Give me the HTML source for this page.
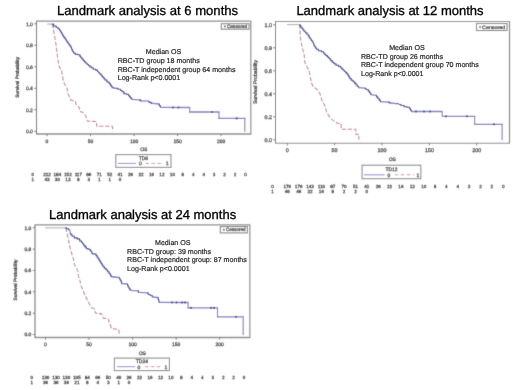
<!DOCTYPE html>
<html><head><meta charset="utf-8"><style>
html,body{margin:0;padding:0;background:#fff;}
svg{display:block;}
text{font-family:"Liberation Sans", sans-serif;text-rendering:geometricPrecision;}
.ti{font-size:13px;fill:#000;stroke:#000;stroke-width:0.32px;}
.md{font-size:7.1px;fill:#222;stroke:#222;stroke-width:0.18px;text-rendering:geometricPrecision;}
svg text:not(.md):not(.ti){fill:#2e2e2e;stroke:#2e2e2e;stroke-width:0.25px;}
</style></head><body>
<svg width="520" height="390" viewBox="0 0 520 390">
<defs><filter id="bl" filterUnits="userSpaceOnUse" x="0" y="0" width="520" height="390"><feConvolveMatrix order="3" kernelMatrix="1 6 1 6 36 6 1 6 1" divisor="64" edgeMode="duplicate"/></filter></defs>
<rect width="520" height="390" fill="#fff"/>
<g filter="url(#bl)">
<rect width="520" height="390" fill="#fff"/>
<path d="M35.95,21.15H251.35M35.95,134.00H251.35" stroke="#8a8a8a" stroke-width="1.4"/>
<path d="M36.50,21.15V134.00" stroke="#727272" stroke-width="1.1"/>
<path d="M250.80,21.15V134.00" stroke="#959595" stroke-width="1.3"/>
<line x1="34.3" y1="131.3" x2="36.5" y2="131.3" stroke="#777" stroke-width="1.0"/>
<text x="32.9" y="133.1" font-size="5" fill="#444" text-anchor="end">0.0</text>
<line x1="34.3" y1="109.8" x2="36.5" y2="109.8" stroke="#777" stroke-width="1.0"/>
<text x="32.9" y="111.6" font-size="5" fill="#444" text-anchor="end">0.2</text>
<line x1="34.3" y1="88.3" x2="36.5" y2="88.3" stroke="#777" stroke-width="1.0"/>
<text x="32.9" y="90.1" font-size="5" fill="#444" text-anchor="end">0.4</text>
<line x1="34.3" y1="66.8" x2="36.5" y2="66.8" stroke="#777" stroke-width="1.0"/>
<text x="32.9" y="68.6" font-size="5" fill="#444" text-anchor="end">0.6</text>
<line x1="34.3" y1="45.3" x2="36.5" y2="45.3" stroke="#777" stroke-width="1.0"/>
<text x="32.9" y="47.1" font-size="5" fill="#444" text-anchor="end">0.8</text>
<line x1="34.3" y1="23.8" x2="36.5" y2="23.8" stroke="#777" stroke-width="1.0"/>
<text x="32.9" y="25.6" font-size="5" fill="#444" text-anchor="end">1.0</text>
<line x1="47.0" y1="134.0" x2="47.0" y2="136.2" stroke="#777" stroke-width="1.0"/>
<text x="47.0" y="142.5" font-size="5" fill="#444" text-anchor="middle">0</text>
<line x1="90.5" y1="134.0" x2="90.5" y2="136.2" stroke="#777" stroke-width="1.0"/>
<text x="90.5" y="142.5" font-size="5" fill="#444" text-anchor="middle">50</text>
<line x1="134.1" y1="134.0" x2="134.1" y2="136.2" stroke="#777" stroke-width="1.0"/>
<text x="134.1" y="142.5" font-size="5" fill="#444" text-anchor="middle">100</text>
<line x1="177.6" y1="134.0" x2="177.6" y2="136.2" stroke="#777" stroke-width="1.0"/>
<text x="177.6" y="142.5" font-size="5" fill="#444" text-anchor="middle">150</text>
<line x1="221.1" y1="134.0" x2="221.1" y2="136.2" stroke="#777" stroke-width="1.0"/>
<text x="221.1" y="142.5" font-size="5" fill="#444" text-anchor="middle">200</text>
<text x="0" y="0" font-size="4.8" fill="#444" text-anchor="middle" transform="translate(18.9,77.3) rotate(-90)">Survival Probability</text>
<text x="143.8" y="151.0" font-size="5" fill="#444" text-anchor="middle">OS</text>
<rect x="115.8" y="154.6" width="55.2" height="12.8" fill="none" stroke="#8c8c8c" stroke-width="1.1"/>
<text x="143.4" y="160.0" font-size="5" fill="#444" text-anchor="middle">TD6</text>
<line x1="118" y1="163.4" x2="136" y2="163.4" stroke="#8a8ad0" stroke-width="1"/>
<line x1="145.4" y1="163.4" x2="163" y2="163.4" stroke="#c89aa6" stroke-width="1" stroke-dasharray="3.6 2.4"/>
<text x="140.3" y="165.2" font-size="5" fill="#444" text-anchor="middle">0</text>
<text x="167.2" y="165.2" font-size="5" fill="#444" text-anchor="middle">1</text>
<rect x="221.3" y="23.7" width="27.7" height="5.5" fill="none" stroke="#858585" stroke-width="1.1"/>
<path d="M223.8,26.4H226.0M224.9,25.3V27.6" stroke="#555" stroke-width="0.8"/>
<text x="226.9" y="28.1" font-size="4.8" fill="#444" textLength="20.3" lengthAdjust="spacingAndGlyphs">Censored</text>
<text x="32.8" y="175.8" font-size="4.6" fill="#444" text-anchor="middle">0</text>
<text x="32.8" y="180.7" font-size="4.6" fill="#444" text-anchor="middle">1</text>
<text x="47.0" y="175.8" font-size="4.6" fill="#444" text-anchor="middle">212</text>
<text x="57.4" y="175.8" font-size="4.6" fill="#444" text-anchor="middle">184</text>
<text x="67.9" y="175.8" font-size="4.6" fill="#444" text-anchor="middle">152</text>
<text x="78.3" y="175.8" font-size="4.6" fill="#444" text-anchor="middle">117</text>
<text x="88.8" y="175.8" font-size="4.6" fill="#444" text-anchor="middle">86</text>
<text x="99.2" y="175.8" font-size="4.6" fill="#444" text-anchor="middle">71</text>
<text x="109.7" y="175.8" font-size="4.6" fill="#444" text-anchor="middle">52</text>
<text x="120.1" y="175.8" font-size="4.6" fill="#444" text-anchor="middle">41</text>
<text x="130.6" y="175.8" font-size="4.6" fill="#444" text-anchor="middle">26</text>
<text x="141.0" y="175.8" font-size="4.6" fill="#444" text-anchor="middle">22</text>
<text x="151.5" y="175.8" font-size="4.6" fill="#444" text-anchor="middle">16</text>
<text x="161.9" y="175.8" font-size="4.6" fill="#444" text-anchor="middle">12</text>
<text x="172.4" y="175.8" font-size="4.6" fill="#444" text-anchor="middle">10</text>
<text x="182.8" y="175.8" font-size="4.6" fill="#444" text-anchor="middle">8</text>
<text x="193.2" y="175.8" font-size="4.6" fill="#444" text-anchor="middle">4</text>
<text x="203.7" y="175.8" font-size="4.6" fill="#444" text-anchor="middle">4</text>
<text x="214.1" y="175.8" font-size="4.6" fill="#444" text-anchor="middle">3</text>
<text x="224.6" y="175.8" font-size="4.6" fill="#444" text-anchor="middle">2</text>
<text x="235.0" y="175.8" font-size="4.6" fill="#444" text-anchor="middle">2</text>
<text x="245.5" y="175.8" font-size="4.6" fill="#444" text-anchor="middle">0</text>
<text x="47.0" y="180.7" font-size="4.6" fill="#444" text-anchor="middle">43</text>
<text x="57.4" y="180.7" font-size="4.6" fill="#444" text-anchor="middle">30</text>
<text x="67.9" y="180.7" font-size="4.6" fill="#444" text-anchor="middle">13</text>
<text x="78.3" y="180.7" font-size="4.6" fill="#444" text-anchor="middle">8</text>
<text x="88.8" y="180.7" font-size="4.6" fill="#444" text-anchor="middle">3</text>
<text x="99.2" y="180.7" font-size="4.6" fill="#444" text-anchor="middle">1</text>
<text x="109.7" y="180.7" font-size="4.6" fill="#444" text-anchor="middle">1</text>
<text x="120.1" y="180.7" font-size="4.6" fill="#444" text-anchor="middle">0</text>
<line x1="47.2" y1="24.1" x2="52.1" y2="24.1" stroke="#b4b0b8" stroke-width="1.1"/>
<line x1="52.1" y1="24.1" x2="52.8" y2="26.1" stroke="#b8849a" stroke-width="1.1" stroke-dasharray="4.2 1.8" stroke-dashoffset="0.00"/>
<line x1="52.8" y1="26.1" x2="55.4" y2="40.5" stroke="#b8849a" stroke-width="1.1" stroke-dasharray="4.2 1.8" stroke-dashoffset="2.12"/>
<line x1="55.4" y1="40.5" x2="57.3" y2="55" stroke="#b8849a" stroke-width="1.1" stroke-dasharray="4.2 1.8" stroke-dashoffset="16.75"/>
<line x1="57.3" y1="55" x2="58.8" y2="65.2" stroke="#b8849a" stroke-width="1.1" stroke-dasharray="4.2 1.8" stroke-dashoffset="31.38"/>
<line x1="58.8" y1="65.2" x2="59.9" y2="68.3" stroke="#b8849a" stroke-width="1.1" stroke-dasharray="4.2 1.8" stroke-dashoffset="41.69"/>
<line x1="59.9" y1="68.3" x2="61.4" y2="69.3" stroke="#b8849a" stroke-width="1.1" stroke-dasharray="4.2 1.8" stroke-dashoffset="44.97"/>
<line x1="61.4" y1="69.3" x2="62.4" y2="75.5" stroke="#b8849a" stroke-width="1.1" stroke-dasharray="4.2 1.8" stroke-dashoffset="46.78"/>
<line x1="62.4" y1="75.5" x2="63.4" y2="81.6" stroke="#b8849a" stroke-width="1.1" stroke-dasharray="4.2 1.8" stroke-dashoffset="53.06"/>
<line x1="63.4" y1="81.6" x2="65.5" y2="85.7" stroke="#b8849a" stroke-width="1.1" stroke-dasharray="4.2 1.8" stroke-dashoffset="59.24"/>
<line x1="65.5" y1="85.7" x2="67" y2="87.8" stroke="#b8849a" stroke-width="1.1" stroke-dasharray="4.2 1.8" stroke-dashoffset="63.85"/>
<line x1="67" y1="87.8" x2="68" y2="94" stroke="#b8849a" stroke-width="1.1" stroke-dasharray="4.2 1.8" stroke-dashoffset="66.43"/>
<line x1="68" y1="94" x2="68.3" y2="94.6" stroke="#b8849a" stroke-width="1.1" stroke-dasharray="4.2 1.8" stroke-dashoffset="72.71"/>
<line x1="68.3" y1="94.6" x2="71.2" y2="100.4" stroke="#b8849a" stroke-width="1.1" stroke-dasharray="4.2 1.8" stroke-dashoffset="73.38"/>
<line x1="71.2" y1="100.4" x2="75.2" y2="101" stroke="#c87888" stroke-width="1.1" stroke-dasharray="4.2 1.8" stroke-dashoffset="79.86"/>
<line x1="75.2" y1="101" x2="76.4" y2="105" stroke="#b8849a" stroke-width="1.1" stroke-dasharray="4.2 1.8" stroke-dashoffset="83.91"/>
<line x1="76.4" y1="105" x2="79.2" y2="107.3" stroke="#b8849a" stroke-width="1.1" stroke-dasharray="4.2 1.8" stroke-dashoffset="88.08"/>
<line x1="79.2" y1="107.3" x2="79.8" y2="111.4" stroke="#b8849a" stroke-width="1.1" stroke-dasharray="4.2 1.8" stroke-dashoffset="91.71"/>
<line x1="79.8" y1="111.4" x2="83.3" y2="112.5" stroke="#c87888" stroke-width="1.1" stroke-dasharray="4.2 1.8" stroke-dashoffset="95.85"/>
<line x1="83.3" y1="112.5" x2="85.6" y2="115.4" stroke="#b8849a" stroke-width="1.1" stroke-dasharray="4.2 1.8" stroke-dashoffset="99.52"/>
<line x1="85.6" y1="115.4" x2="87.3" y2="121.2" stroke="#b8849a" stroke-width="1.1" stroke-dasharray="4.2 1.8" stroke-dashoffset="103.22"/>
<line x1="87.3" y1="121.2" x2="96.6" y2="121.5" stroke="#c87888" stroke-width="1.1" stroke-dasharray="4.2 1.8" stroke-dashoffset="109.26"/>
<line x1="96.6" y1="121.5" x2="96.6" y2="126.3" stroke="#b8849a" stroke-width="1.1" stroke-dasharray="4.2 1.8" stroke-dashoffset="118.57"/>
<line x1="96.6" y1="126.3" x2="112.6" y2="126.3" stroke="#c87888" stroke-width="1.1" stroke-dasharray="4.2 1.8" stroke-dashoffset="123.37"/>
<line x1="112.6" y1="126.3" x2="112.6" y2="131.3" stroke="#b8849a" stroke-width="1.1" stroke-dasharray="4.2 1.8" stroke-dashoffset="139.37"/>
<path d="M52.10,24.10H53.55V26.00H55.00" fill="none" stroke="#30308c" stroke-width="1.1" stroke-linejoin="round"/>
<path d="M55.00,26.00H56.25V27.50H57.50" fill="none" stroke="#30308c" stroke-width="1.1" stroke-linejoin="round"/>
<path d="M57.50,27.50H58.12V28.75H59.38V30.00H60.00" fill="none" stroke="#30308c" stroke-width="1.1" stroke-linejoin="round"/>
<path d="M60.00,30.00H60.36V31.28H61.08V32.56H61.80V33.84H62.52V35.12H63.24V36.40H63.60" fill="none" stroke="#30308c" stroke-width="1.1" stroke-linejoin="round"/>
<path d="M63.60,36.40H64.05V37.60H64.95V38.80H65.85V40.00H66.30" fill="none" stroke="#30308c" stroke-width="1.1" stroke-linejoin="round"/>
<path d="M66.30,40.00H66.68V41.20H67.45V42.40H68.22V43.60H68.60" fill="none" stroke="#30308c" stroke-width="1.1" stroke-linejoin="round"/>
<path d="M68.60,43.60H69.15V44.95H70.25V46.30H70.80" fill="none" stroke="#30308c" stroke-width="1.1" stroke-linejoin="round"/>
<path d="M70.80,46.30H71.03V47.50H71.50V48.70H71.97V49.90H72.20" fill="none" stroke="#30308c" stroke-width="1.1" stroke-linejoin="round"/>
<path d="M72.20,49.90H72.65V51.45H73.55V53.00H74.00" fill="none" stroke="#30308c" stroke-width="1.1" stroke-linejoin="round"/>
<path d="M74.00,53.00H75.35V54.40H76.70" fill="none" stroke="#30308c" stroke-width="1.1" stroke-linejoin="round"/>
<path d="M76.70,54.40H78.05V54.80H79.40" fill="none" stroke="#30308c" stroke-width="1.1" stroke-linejoin="round"/>
<path d="M79.40,54.80H79.85V56.15H80.75V57.50H81.20" fill="none" stroke="#30308c" stroke-width="1.1" stroke-linejoin="round"/>
<path d="M81.20,57.50H81.88V59.05H83.23V60.60H83.90" fill="none" stroke="#30308c" stroke-width="1.1" stroke-linejoin="round"/>
<path d="M83.90,60.60H84.55V61.95H85.85V63.30H86.50" fill="none" stroke="#30308c" stroke-width="1.1" stroke-linejoin="round"/>
<path d="M86.50,63.30H87.17V64.45H88.53V65.60H89.20" fill="none" stroke="#30308c" stroke-width="1.1" stroke-linejoin="round"/>
<path d="M89.20,65.60H89.88V66.70H91.23V67.80H91.90" fill="none" stroke="#30308c" stroke-width="1.1" stroke-linejoin="round"/>
<path d="M91.90,67.80H93.25V69.20H94.60" fill="none" stroke="#30308c" stroke-width="1.1" stroke-linejoin="round"/>
<path d="M94.60,69.20H95.75V70.10H96.90" fill="none" stroke="#30308c" stroke-width="1.1" stroke-linejoin="round"/>
<path d="M96.90,70.10H97.45V71.45H98.55V72.80H99.10" fill="none" stroke="#30308c" stroke-width="1.1" stroke-linejoin="round"/>
<path d="M99.10,72.80H99.75V73.80H100.40" fill="none" stroke="#30308c" stroke-width="1.1" stroke-linejoin="round"/>
<path d="M100.40,73.80H100.90V75.00H101.90V76.20H102.90V77.40H103.40" fill="none" stroke="#30308c" stroke-width="1.1" stroke-linejoin="round"/>
<path d="M103.40,77.40H103.93V78.70H104.97V80.00H105.50" fill="none" stroke="#30308c" stroke-width="1.1" stroke-linejoin="round"/>
<path d="M105.50,80.00H107.05V82.00H108.60" fill="none" stroke="#30308c" stroke-width="1.1" stroke-linejoin="round"/>
<path d="M108.60,82.00H109.11V83.42H110.14V84.85H111.16V86.28H112.19V87.70H112.70" fill="none" stroke="#30308c" stroke-width="1.1" stroke-linejoin="round"/>
<path d="M112.70,87.70H114.20V88.20H115.70" fill="none" stroke="#30308c" stroke-width="1.1" stroke-linejoin="round"/>
<path d="M115.70,88.20H117.75V89.20H119.80" fill="none" stroke="#30308c" stroke-width="1.1" stroke-linejoin="round"/>
<path d="M119.80,89.20H120.58V90.50H122.12V91.80H122.90" fill="none" stroke="#30308c" stroke-width="1.1" stroke-linejoin="round"/>
<path d="M122.90,91.80H123.95V93.80H125.00" fill="none" stroke="#30308c" stroke-width="1.1" stroke-linejoin="round"/>
<path d="M125.00,93.80H126.50V94.30H128.00" fill="none" stroke="#30308c" stroke-width="1.1" stroke-linejoin="round"/>
<path d="M128.00,94.30H128.53V95.60H129.57V96.90H130.10" fill="none" stroke="#30308c" stroke-width="1.1" stroke-linejoin="round"/>
<path d="M130.10,96.90H130.62V98.10H131.67V99.30H132.20" fill="none" stroke="#30308c" stroke-width="1.1" stroke-linejoin="round"/>
<line x1="132.2" y1="99.3" x2="139.3" y2="99.9" stroke="#7c7cbe" stroke-width="1.3" stroke-linecap="round"/>
<path d="M139.30,99.90H140.35V100.90H141.40" fill="none" stroke="#30308c" stroke-width="1.1" stroke-linejoin="round"/>
<line x1="141.4" y1="100.9" x2="148.6" y2="101.2" stroke="#7c7cbe" stroke-width="1.3" stroke-linecap="round"/>
<path d="M148.60,101.20H149.10V102.40H149.60" fill="none" stroke="#30308c" stroke-width="1.1" stroke-linejoin="round"/>
<path d="M149.60,102.40H151.15V103.40H152.70" fill="none" stroke="#30308c" stroke-width="1.1" stroke-linejoin="round"/>
<line x1="152.7" y1="103.4" x2="158.8" y2="104" stroke="#7c7cbe" stroke-width="1.3" stroke-linecap="round"/>
<path d="M158.80,104.00H159.33V105.65H160.38V107.30H160.90" fill="none" stroke="#30308c" stroke-width="1.1" stroke-linejoin="round"/>
<line x1="160.9" y1="107.3" x2="189.7" y2="107.5" stroke="#7c7cbe" stroke-width="1.3" stroke-linecap="round"/>
<line x1="189.7" y1="107.5" x2="189.7" y2="112" stroke="#8484c2" stroke-width="1.2" stroke-linecap="round"/>
<line x1="189.7" y1="112" x2="219" y2="112" stroke="#7c7cbe" stroke-width="1.3" stroke-linecap="round"/>
<line x1="219" y1="112" x2="219" y2="118.4" stroke="#8484c2" stroke-width="1.2" stroke-linecap="round"/>
<line x1="219" y1="118.4" x2="244.8" y2="118.4" stroke="#7c7cbe" stroke-width="1.3" stroke-linecap="round"/>
<line x1="244.8" y1="118.4" x2="244.8" y2="131.3" stroke="#8484c2" stroke-width="1.2" stroke-linecap="round"/>
<circle cx="173" cy="107.5" r="1.1" fill="#40408a"/>
<circle cx="178.5" cy="107.5" r="1.1" fill="#40408a"/>
<circle cx="212" cy="112" r="1.1" fill="#40408a"/>
<circle cx="236.7" cy="118.4" r="1.1" fill="#40408a"/>
<path d="M275.00,21.50H510.00M275.00,143.20H510.00" stroke="#8a8a8a" stroke-width="1.15"/>
<path d="M275.50,21.50V143.20" stroke="#727272" stroke-width="1.0"/>
<path d="M509.50,21.50V143.20" stroke="#7e7e7e" stroke-width="1.2"/>
<line x1="273.3" y1="139.8" x2="275.5" y2="139.8" stroke="#777" stroke-width="1.0"/>
<text x="271.9" y="141.6" font-size="5.4" fill="#444" text-anchor="end">0.0</text>
<line x1="273.3" y1="116.8" x2="275.5" y2="116.8" stroke="#777" stroke-width="1.0"/>
<text x="271.9" y="118.6" font-size="5.4" fill="#444" text-anchor="end">0.2</text>
<line x1="273.3" y1="93.8" x2="275.5" y2="93.8" stroke="#777" stroke-width="1.0"/>
<text x="271.9" y="95.6" font-size="5.4" fill="#444" text-anchor="end">0.4</text>
<line x1="273.3" y1="70.8" x2="275.5" y2="70.8" stroke="#777" stroke-width="1.0"/>
<text x="271.9" y="72.6" font-size="5.4" fill="#444" text-anchor="end">0.6</text>
<line x1="273.3" y1="47.8" x2="275.5" y2="47.8" stroke="#777" stroke-width="1.0"/>
<text x="271.9" y="49.6" font-size="5.4" fill="#444" text-anchor="end">0.8</text>
<line x1="273.3" y1="24.8" x2="275.5" y2="24.8" stroke="#777" stroke-width="1.0"/>
<text x="271.9" y="26.6" font-size="5.4" fill="#444" text-anchor="end">1.0</text>
<line x1="287.3" y1="143.2" x2="287.3" y2="145.4" stroke="#777" stroke-width="1.0"/>
<text x="287.3" y="152.2" font-size="5.4" fill="#444" text-anchor="middle">0</text>
<line x1="334.6" y1="143.2" x2="334.6" y2="145.4" stroke="#777" stroke-width="1.0"/>
<text x="334.6" y="152.2" font-size="5.4" fill="#444" text-anchor="middle">50</text>
<line x1="382.0" y1="143.2" x2="382.0" y2="145.4" stroke="#777" stroke-width="1.0"/>
<text x="382.0" y="152.2" font-size="5.4" fill="#444" text-anchor="middle">100</text>
<line x1="429.4" y1="143.2" x2="429.4" y2="145.4" stroke="#777" stroke-width="1.0"/>
<text x="429.4" y="152.2" font-size="5.4" fill="#444" text-anchor="middle">150</text>
<line x1="476.7" y1="143.2" x2="476.7" y2="145.4" stroke="#777" stroke-width="1.0"/>
<text x="476.7" y="152.2" font-size="5.4" fill="#444" text-anchor="middle">200</text>
<text x="0" y="0" font-size="5.2" fill="#444" text-anchor="middle" transform="translate(257.1,82.0) rotate(-90)">Survival Probability</text>
<text x="392.3" y="160.8" font-size="5" fill="#444" text-anchor="middle">OS</text>
<rect x="362.1" y="165.2" width="58.7" height="13.5" fill="none" stroke="#8c8c8c" stroke-width="1.1"/>
<text x="391.5" y="170.8" font-size="5" fill="#444" text-anchor="middle">TD12</text>
<line x1="364" y1="174.8" x2="384.6" y2="174.8" stroke="#8a8ad0" stroke-width="1"/>
<line x1="394.8" y1="174.8" x2="414" y2="174.8" stroke="#c89aa6" stroke-width="1" stroke-dasharray="3.6 2.4"/>
<text x="389" y="176.6" font-size="5" fill="#444" text-anchor="middle">0</text>
<text x="417.9" y="176.6" font-size="5" fill="#444" text-anchor="middle">1</text>
<rect x="476.5" y="23.5" width="30.5" height="7.0" fill="none" stroke="#858585" stroke-width="1.1"/>
<path d="M479.0,27.0H481.2M480.1,25.9V28.1" stroke="#555" stroke-width="0.8"/>
<text x="482.1" y="28.7" font-size="4.8" fill="#444" textLength="23.1" lengthAdjust="spacingAndGlyphs">Censored</text>
<text x="272.5" y="187.5" font-size="4.6" fill="#444" text-anchor="middle">0</text>
<text x="272.5" y="193.2" font-size="4.6" fill="#444" text-anchor="middle">1</text>
<text x="287.3" y="187.5" font-size="4.6" fill="#444" text-anchor="middle">176</text>
<text x="298.7" y="187.5" font-size="4.6" fill="#444" text-anchor="middle">176</text>
<text x="310.0" y="187.5" font-size="4.6" fill="#444" text-anchor="middle">143</text>
<text x="321.4" y="187.5" font-size="4.6" fill="#444" text-anchor="middle">110</text>
<text x="332.8" y="187.5" font-size="4.6" fill="#444" text-anchor="middle">87</text>
<text x="344.1" y="187.5" font-size="4.6" fill="#444" text-anchor="middle">70</text>
<text x="355.5" y="187.5" font-size="4.6" fill="#444" text-anchor="middle">51</text>
<text x="366.8" y="187.5" font-size="4.6" fill="#444" text-anchor="middle">41</text>
<text x="378.2" y="187.5" font-size="4.6" fill="#444" text-anchor="middle">26</text>
<text x="389.6" y="187.5" font-size="4.6" fill="#444" text-anchor="middle">22</text>
<text x="400.9" y="187.5" font-size="4.6" fill="#444" text-anchor="middle">16</text>
<text x="412.3" y="187.5" font-size="4.6" fill="#444" text-anchor="middle">12</text>
<text x="423.7" y="187.5" font-size="4.6" fill="#444" text-anchor="middle">10</text>
<text x="435.0" y="187.5" font-size="4.6" fill="#444" text-anchor="middle">8</text>
<text x="446.4" y="187.5" font-size="4.6" fill="#444" text-anchor="middle">4</text>
<text x="457.8" y="187.5" font-size="4.6" fill="#444" text-anchor="middle">4</text>
<text x="469.1" y="187.5" font-size="4.6" fill="#444" text-anchor="middle">3</text>
<text x="480.5" y="187.5" font-size="4.6" fill="#444" text-anchor="middle">2</text>
<text x="491.9" y="187.5" font-size="4.6" fill="#444" text-anchor="middle">2</text>
<text x="503.2" y="187.5" font-size="4.6" fill="#444" text-anchor="middle">0</text>
<text x="287.3" y="193.2" font-size="4.6" fill="#444" text-anchor="middle">46</text>
<text x="298.7" y="193.2" font-size="4.6" fill="#444" text-anchor="middle">46</text>
<text x="310.0" y="193.2" font-size="4.6" fill="#444" text-anchor="middle">22</text>
<text x="321.4" y="193.2" font-size="4.6" fill="#444" text-anchor="middle">16</text>
<text x="332.8" y="193.2" font-size="4.6" fill="#444" text-anchor="middle">8</text>
<text x="344.1" y="193.2" font-size="4.6" fill="#444" text-anchor="middle">2</text>
<text x="355.5" y="193.2" font-size="4.6" fill="#444" text-anchor="middle">2</text>
<text x="366.8" y="193.2" font-size="4.6" fill="#444" text-anchor="middle">0</text>
<line x1="287" y1="24.6" x2="299.5" y2="24.6" stroke="#b4b0b8" stroke-width="1.1"/>
<line x1="299.5" y1="24.6" x2="300" y2="29.2" stroke="#b8849a" stroke-width="1.1" stroke-dasharray="4.2 1.8" stroke-dashoffset="0.00"/>
<line x1="300" y1="29.2" x2="300.5" y2="38.4" stroke="#b8849a" stroke-width="1.1" stroke-dasharray="4.2 1.8" stroke-dashoffset="4.63"/>
<line x1="300.5" y1="38.4" x2="301.5" y2="43.6" stroke="#b8849a" stroke-width="1.1" stroke-dasharray="4.2 1.8" stroke-dashoffset="13.84"/>
<line x1="301.5" y1="43.6" x2="302.5" y2="48.7" stroke="#b8849a" stroke-width="1.1" stroke-dasharray="4.2 1.8" stroke-dashoffset="19.14"/>
<line x1="302.5" y1="48.7" x2="304.1" y2="53.8" stroke="#b8849a" stroke-width="1.1" stroke-dasharray="4.2 1.8" stroke-dashoffset="24.33"/>
<line x1="304.1" y1="53.8" x2="304.6" y2="58.9" stroke="#b8849a" stroke-width="1.1" stroke-dasharray="4.2 1.8" stroke-dashoffset="29.68"/>
<line x1="304.6" y1="58.9" x2="304.7" y2="62.2" stroke="#b8849a" stroke-width="1.1" stroke-dasharray="4.2 1.8" stroke-dashoffset="34.80"/>
<line x1="304.7" y1="62.2" x2="307.3" y2="67.3" stroke="#b8849a" stroke-width="1.1" stroke-dasharray="4.2 1.8" stroke-dashoffset="38.10"/>
<line x1="307.3" y1="67.3" x2="309.3" y2="71.4" stroke="#b8849a" stroke-width="1.1" stroke-dasharray="4.2 1.8" stroke-dashoffset="43.83"/>
<line x1="309.3" y1="71.4" x2="310.4" y2="77.5" stroke="#b8849a" stroke-width="1.1" stroke-dasharray="4.2 1.8" stroke-dashoffset="48.39"/>
<line x1="310.4" y1="77.5" x2="311.4" y2="82.7" stroke="#b8849a" stroke-width="1.1" stroke-dasharray="4.2 1.8" stroke-dashoffset="54.59"/>
<line x1="311.4" y1="82.7" x2="313.1" y2="86.5" stroke="#b8849a" stroke-width="1.1" stroke-dasharray="4.2 1.8" stroke-dashoffset="59.88"/>
<line x1="313.1" y1="86.5" x2="317.5" y2="89.8" stroke="#b8849a" stroke-width="1.1" stroke-dasharray="4.2 1.8" stroke-dashoffset="64.05"/>
<line x1="317.5" y1="89.8" x2="319.2" y2="92.7" stroke="#b8849a" stroke-width="1.1" stroke-dasharray="4.2 1.8" stroke-dashoffset="69.55"/>
<line x1="319.2" y1="92.7" x2="320.1" y2="93.9" stroke="#b8849a" stroke-width="1.1" stroke-dasharray="4.2 1.8" stroke-dashoffset="72.91"/>
<line x1="320.1" y1="93.9" x2="322.3" y2="101.9" stroke="#b8849a" stroke-width="1.1" stroke-dasharray="4.2 1.8" stroke-dashoffset="74.41"/>
<line x1="322.3" y1="101.9" x2="324.6" y2="105" stroke="#b8849a" stroke-width="1.1" stroke-dasharray="4.2 1.8" stroke-dashoffset="82.71"/>
<line x1="324.6" y1="105" x2="326.9" y2="112.7" stroke="#b8849a" stroke-width="1.1" stroke-dasharray="4.2 1.8" stroke-dashoffset="86.57"/>
<line x1="326.9" y1="112.7" x2="330.8" y2="118.8" stroke="#b8849a" stroke-width="1.1" stroke-dasharray="4.2 1.8" stroke-dashoffset="94.60"/>
<line x1="330.8" y1="118.8" x2="334.6" y2="121.2" stroke="#b8849a" stroke-width="1.1" stroke-dasharray="4.2 1.8" stroke-dashoffset="101.84"/>
<line x1="334.6" y1="121.2" x2="337.7" y2="123.5" stroke="#b8849a" stroke-width="1.1" stroke-dasharray="4.2 1.8" stroke-dashoffset="106.34"/>
<line x1="337.7" y1="123.5" x2="341.2" y2="123.5" stroke="#c87888" stroke-width="1.1" stroke-dasharray="4.2 1.8" stroke-dashoffset="110.20"/>
<line x1="341.2" y1="123.5" x2="341.2" y2="129.2" stroke="#b8849a" stroke-width="1.1" stroke-dasharray="4.2 1.8" stroke-dashoffset="113.70"/>
<line x1="341.2" y1="129.2" x2="355.8" y2="129.2" stroke="#c87888" stroke-width="1.1" stroke-dasharray="4.2 1.8" stroke-dashoffset="119.40"/>
<line x1="355.8" y1="129.2" x2="355.8" y2="134.5" stroke="#b8849a" stroke-width="1.1" stroke-dasharray="4.2 1.8" stroke-dashoffset="134.00"/>
<line x1="355.8" y1="134.5" x2="358.8" y2="134.5" stroke="#c87888" stroke-width="1.1" stroke-dasharray="4.2 1.8" stroke-dashoffset="139.30"/>
<line x1="358.8" y1="134.5" x2="358.8" y2="139.8" stroke="#b8849a" stroke-width="1.1" stroke-dasharray="4.2 1.8" stroke-dashoffset="142.30"/>
<path d="M299.50,24.60H300.00V25.90H301.00V27.20H301.50" fill="none" stroke="#30308c" stroke-width="1.1" stroke-linejoin="round"/>
<path d="M301.50,27.20H302.02V28.57H303.05V29.93H304.08V31.30H304.60" fill="none" stroke="#30308c" stroke-width="1.1" stroke-linejoin="round"/>
<path d="M304.60,31.30H305.38V32.80H306.93V34.30H307.70" fill="none" stroke="#30308c" stroke-width="1.1" stroke-linejoin="round"/>
<path d="M307.70,34.30H308.20V35.87H309.20V37.43H310.20V39.00H310.70" fill="none" stroke="#30308c" stroke-width="1.1" stroke-linejoin="round"/>
<path d="M310.70,39.00H311.35V40.75H312.65V42.50H313.30" fill="none" stroke="#30308c" stroke-width="1.1" stroke-linejoin="round"/>
<path d="M313.30,42.50H313.55V44.05H314.05V45.60H314.30" fill="none" stroke="#30308c" stroke-width="1.1" stroke-linejoin="round"/>
<path d="M314.30,45.60H314.73V46.80H315.60V48.00H316.47V49.20H316.90" fill="none" stroke="#30308c" stroke-width="1.1" stroke-linejoin="round"/>
<path d="M316.90,49.20H318.45V50.70H320.00" fill="none" stroke="#30308c" stroke-width="1.1" stroke-linejoin="round"/>
<path d="M320.00,50.70H321.50V51.80H323.00" fill="none" stroke="#30308c" stroke-width="1.1" stroke-linejoin="round"/>
<path d="M323.00,51.80H323.52V53.05H324.58V54.30H325.10" fill="none" stroke="#30308c" stroke-width="1.1" stroke-linejoin="round"/>
<path d="M325.10,54.30H325.88V55.60H327.43V56.90H328.20" fill="none" stroke="#30308c" stroke-width="1.1" stroke-linejoin="round"/>
<path d="M328.20,56.90H328.65V57.95H329.55V59.00H330.00" fill="none" stroke="#30308c" stroke-width="1.1" stroke-linejoin="round"/>
<path d="M330.00,59.00H330.73V60.60H332.17V62.20H332.90" fill="none" stroke="#30308c" stroke-width="1.1" stroke-linejoin="round"/>
<path d="M332.90,62.20H333.92V63.70H335.98V65.20H337.00" fill="none" stroke="#30308c" stroke-width="1.1" stroke-linejoin="round"/>
<path d="M337.00,65.20H338.50V66.40H340.00" fill="none" stroke="#30308c" stroke-width="1.1" stroke-linejoin="round"/>
<path d="M340.00,66.40H340.63V67.70H341.90V69.00H343.17V70.30H343.80" fill="none" stroke="#30308c" stroke-width="1.1" stroke-linejoin="round"/>
<path d="M343.80,70.30H344.45V71.57H345.75V72.83H347.05V74.10H347.70" fill="none" stroke="#30308c" stroke-width="1.1" stroke-linejoin="round"/>
<path d="M347.70,74.10H348.13V75.60H349.00V77.10H349.87V78.60H350.30" fill="none" stroke="#30308c" stroke-width="1.1" stroke-linejoin="round"/>
<path d="M350.30,78.60H351.25V80.20H353.15V81.80H354.10" fill="none" stroke="#30308c" stroke-width="1.1" stroke-linejoin="round"/>
<path d="M354.10,81.80H354.75V83.40H356.05V85.00H356.70" fill="none" stroke="#30308c" stroke-width="1.1" stroke-linejoin="round"/>
<path d="M356.70,85.00H357.32V86.30H358.57V87.60H359.20" fill="none" stroke="#30308c" stroke-width="1.1" stroke-linejoin="round"/>
<line x1="359.2" y1="87.6" x2="364.4" y2="88.2" stroke="#7c7cbe" stroke-width="1.3" stroke-linecap="round"/>
<path d="M364.40,88.20H366.00V89.50H367.60" fill="none" stroke="#30308c" stroke-width="1.1" stroke-linejoin="round"/>
<path d="M367.60,89.50H368.23V91.10H369.48V92.70H370.10" fill="none" stroke="#30308c" stroke-width="1.1" stroke-linejoin="round"/>
<path d="M370.10,92.70H370.75V94.60H371.40" fill="none" stroke="#30308c" stroke-width="1.1" stroke-linejoin="round"/>
<line x1="371.4" y1="94.6" x2="375.9" y2="95.3" stroke="#7c7cbe" stroke-width="1.3" stroke-linecap="round"/>
<path d="M375.90,95.30H376.55V96.90H377.85V98.50H378.50" fill="none" stroke="#30308c" stroke-width="1.1" stroke-linejoin="round"/>
<path d="M378.50,98.50H379.12V100.10H380.38V101.70H381.00" fill="none" stroke="#30308c" stroke-width="1.1" stroke-linejoin="round"/>
<line x1="381" y1="101.7" x2="388.1" y2="102.1" stroke="#7c7cbe" stroke-width="1.3" stroke-linecap="round"/>
<path d="M388.10,102.10H389.35V103.00H390.60" fill="none" stroke="#30308c" stroke-width="1.1" stroke-linejoin="round"/>
<line x1="390.6" y1="103" x2="396.4" y2="103.6" stroke="#7c7cbe" stroke-width="1.3" stroke-linecap="round"/>
<path d="M396.40,103.60H397.40V103.50H398.40" fill="none" stroke="#30308c" stroke-width="1.1" stroke-linejoin="round"/>
<line x1="398.4" y1="103.5" x2="399" y2="104.5" stroke="#8484c2" stroke-width="1.2" stroke-linecap="round"/>
<path d="M399.00,104.50H401.05V105.50H403.10" fill="none" stroke="#30308c" stroke-width="1.1" stroke-linejoin="round"/>
<path d="M403.10,105.50H404.10V106.80H405.10" fill="none" stroke="#30308c" stroke-width="1.1" stroke-linejoin="round"/>
<path d="M405.10,106.80H407.10V107.20H409.10" fill="none" stroke="#30308c" stroke-width="1.1" stroke-linejoin="round"/>
<path d="M409.10,107.20H409.55V108.63H410.45V110.07H411.35V111.50H411.80" fill="none" stroke="#30308c" stroke-width="1.1" stroke-linejoin="round"/>
<line x1="411.8" y1="111.5" x2="442.1" y2="111.5" stroke="#7c7cbe" stroke-width="1.3" stroke-linecap="round"/>
<line x1="442.1" y1="111.5" x2="442.4" y2="116.3" stroke="#8484c2" stroke-width="1.2" stroke-linecap="round"/>
<line x1="442.4" y1="116.3" x2="474.6" y2="116.3" stroke="#7c7cbe" stroke-width="1.3" stroke-linecap="round"/>
<line x1="474.6" y1="116.3" x2="474.6" y2="124.3" stroke="#8484c2" stroke-width="1.2" stroke-linecap="round"/>
<line x1="474.6" y1="124.3" x2="502.1" y2="124.3" stroke="#7c7cbe" stroke-width="1.3" stroke-linecap="round"/>
<line x1="502.1" y1="124.3" x2="502.1" y2="139.8" stroke="#8484c2" stroke-width="1.2" stroke-linecap="round"/>
<circle cx="416" cy="111.5" r="1.1" fill="#40408a"/>
<circle cx="424" cy="111.5" r="1.1" fill="#40408a"/>
<circle cx="430" cy="111.5" r="1.1" fill="#40408a"/>
<circle cx="446" cy="116.3" r="1.1" fill="#40408a"/>
<circle cx="467" cy="116.3" r="1.1" fill="#40408a"/>
<circle cx="494" cy="124.3" r="1.1" fill="#40408a"/>
<path d="M34.45,224.90H250.35M34.45,337.50H250.35" stroke="#8a8a8a" stroke-width="1.4"/>
<path d="M35.00,224.90V337.50" stroke="#727272" stroke-width="1.1"/>
<path d="M249.80,224.90V337.50" stroke="#959595" stroke-width="1.3"/>
<line x1="32.8" y1="334.6" x2="35.0" y2="334.6" stroke="#777" stroke-width="1.0"/>
<text x="31.4" y="336.4" font-size="5" fill="#444" text-anchor="end">0.0</text>
<line x1="32.8" y1="313.2" x2="35.0" y2="313.2" stroke="#777" stroke-width="1.0"/>
<text x="31.4" y="315.0" font-size="5" fill="#444" text-anchor="end">0.2</text>
<line x1="32.8" y1="291.8" x2="35.0" y2="291.8" stroke="#777" stroke-width="1.0"/>
<text x="31.4" y="293.6" font-size="5" fill="#444" text-anchor="end">0.4</text>
<line x1="32.8" y1="270.5" x2="35.0" y2="270.5" stroke="#777" stroke-width="1.0"/>
<text x="31.4" y="272.3" font-size="5" fill="#444" text-anchor="end">0.6</text>
<line x1="32.8" y1="249.1" x2="35.0" y2="249.1" stroke="#777" stroke-width="1.0"/>
<text x="31.4" y="250.9" font-size="5" fill="#444" text-anchor="end">0.8</text>
<line x1="32.8" y1="227.7" x2="35.0" y2="227.7" stroke="#777" stroke-width="1.0"/>
<text x="31.4" y="229.5" font-size="5" fill="#444" text-anchor="end">1.0</text>
<line x1="45.5" y1="337.5" x2="45.5" y2="339.7" stroke="#777" stroke-width="1.0"/>
<text x="45.5" y="346.4" font-size="5" fill="#444" text-anchor="middle">0</text>
<line x1="89.0" y1="337.5" x2="89.0" y2="339.7" stroke="#777" stroke-width="1.0"/>
<text x="89.0" y="346.4" font-size="5" fill="#444" text-anchor="middle">50</text>
<line x1="132.6" y1="337.5" x2="132.6" y2="339.7" stroke="#777" stroke-width="1.0"/>
<text x="132.6" y="346.4" font-size="5" fill="#444" text-anchor="middle">100</text>
<line x1="176.2" y1="337.5" x2="176.2" y2="339.7" stroke="#777" stroke-width="1.0"/>
<text x="176.2" y="346.4" font-size="5" fill="#444" text-anchor="middle">150</text>
<line x1="219.7" y1="337.5" x2="219.7" y2="339.7" stroke="#777" stroke-width="1.0"/>
<text x="219.7" y="346.4" font-size="5" fill="#444" text-anchor="middle">200</text>
<text x="0" y="0" font-size="4.8" fill="#444" text-anchor="middle" transform="translate(17.1,280.0) rotate(-90)">Survival Probability</text>
<text x="142.3" y="354.7" font-size="5" fill="#444" text-anchor="middle">OS</text>
<rect x="114.4" y="358.1" width="55.0" height="12.5" fill="none" stroke="#8c8c8c" stroke-width="1.1"/>
<text x="141.9" y="362.8" font-size="5" fill="#444" text-anchor="middle">TD24</text>
<line x1="117" y1="366.7" x2="135.2" y2="366.7" stroke="#8a8ad0" stroke-width="1"/>
<line x1="144.8" y1="366.7" x2="160.2" y2="366.7" stroke="#c89aa6" stroke-width="1" stroke-dasharray="3.6 2.4"/>
<text x="139" y="368.5" font-size="5" fill="#444" text-anchor="middle">0</text>
<text x="166" y="368.5" font-size="5" fill="#444" text-anchor="middle">1</text>
<rect x="220.3" y="226.6" width="27.1" height="6.3" fill="none" stroke="#858585" stroke-width="1.1"/>
<path d="M222.8,229.8H225.0M223.9,228.7V230.8" stroke="#555" stroke-width="0.8"/>
<text x="225.9" y="231.4" font-size="4.8" fill="#444" textLength="19.7" lengthAdjust="spacingAndGlyphs">Censored</text>
<text x="31.9" y="379.4" font-size="4.6" fill="#444" text-anchor="middle">0</text>
<text x="31.9" y="384.1" font-size="4.6" fill="#444" text-anchor="middle">1</text>
<text x="45.5" y="379.4" font-size="4.6" fill="#444" text-anchor="middle">130</text>
<text x="56.0" y="379.4" font-size="4.6" fill="#444" text-anchor="middle">130</text>
<text x="66.4" y="379.4" font-size="4.6" fill="#444" text-anchor="middle">130</text>
<text x="76.9" y="379.4" font-size="4.6" fill="#444" text-anchor="middle">105</text>
<text x="87.3" y="379.4" font-size="4.6" fill="#444" text-anchor="middle">84</text>
<text x="97.8" y="379.4" font-size="4.6" fill="#444" text-anchor="middle">66</text>
<text x="108.2" y="379.4" font-size="4.6" fill="#444" text-anchor="middle">50</text>
<text x="118.7" y="379.4" font-size="4.6" fill="#444" text-anchor="middle">40</text>
<text x="129.1" y="379.4" font-size="4.6" fill="#444" text-anchor="middle">26</text>
<text x="139.6" y="379.4" font-size="4.6" fill="#444" text-anchor="middle">22</text>
<text x="150.0" y="379.4" font-size="4.6" fill="#444" text-anchor="middle">16</text>
<text x="160.5" y="379.4" font-size="4.6" fill="#444" text-anchor="middle">12</text>
<text x="170.9" y="379.4" font-size="4.6" fill="#444" text-anchor="middle">10</text>
<text x="181.4" y="379.4" font-size="4.6" fill="#444" text-anchor="middle">8</text>
<text x="191.8" y="379.4" font-size="4.6" fill="#444" text-anchor="middle">4</text>
<text x="202.3" y="379.4" font-size="4.6" fill="#444" text-anchor="middle">4</text>
<text x="212.7" y="379.4" font-size="4.6" fill="#444" text-anchor="middle">3</text>
<text x="223.2" y="379.4" font-size="4.6" fill="#444" text-anchor="middle">2</text>
<text x="233.6" y="379.4" font-size="4.6" fill="#444" text-anchor="middle">2</text>
<text x="244.1" y="379.4" font-size="4.6" fill="#444" text-anchor="middle">0</text>
<text x="45.5" y="384.1" font-size="4.6" fill="#444" text-anchor="middle">36</text>
<text x="56.0" y="384.1" font-size="4.6" fill="#444" text-anchor="middle">36</text>
<text x="66.4" y="384.1" font-size="4.6" fill="#444" text-anchor="middle">36</text>
<text x="76.9" y="384.1" font-size="4.6" fill="#444" text-anchor="middle">21</text>
<text x="87.3" y="384.1" font-size="4.6" fill="#444" text-anchor="middle">8</text>
<text x="97.8" y="384.1" font-size="4.6" fill="#444" text-anchor="middle">4</text>
<text x="108.2" y="384.1" font-size="4.6" fill="#444" text-anchor="middle">3</text>
<text x="118.7" y="384.1" font-size="4.6" fill="#444" text-anchor="middle">1</text>
<text x="129.1" y="384.1" font-size="4.6" fill="#444" text-anchor="middle">0</text>
<line x1="45.1" y1="227.9" x2="65.6" y2="227.9" stroke="#b4b0b8" stroke-width="1.1"/>
<line x1="65.6" y1="227.9" x2="66.1" y2="229.2" stroke="#b8849a" stroke-width="1.1" stroke-dasharray="4.2 1.8" stroke-dashoffset="0.00"/>
<line x1="66.1" y1="229.2" x2="67.2" y2="233.3" stroke="#b8849a" stroke-width="1.1" stroke-dasharray="4.2 1.8" stroke-dashoffset="1.39"/>
<line x1="67.2" y1="233.3" x2="68.2" y2="238.4" stroke="#b8849a" stroke-width="1.1" stroke-dasharray="4.2 1.8" stroke-dashoffset="5.64"/>
<line x1="68.2" y1="238.4" x2="69.2" y2="243.5" stroke="#b8849a" stroke-width="1.1" stroke-dasharray="4.2 1.8" stroke-dashoffset="10.83"/>
<line x1="69.2" y1="243.5" x2="70.2" y2="248.6" stroke="#b8849a" stroke-width="1.1" stroke-dasharray="4.2 1.8" stroke-dashoffset="16.03"/>
<line x1="70.2" y1="248.6" x2="71.8" y2="253.8" stroke="#b8849a" stroke-width="1.1" stroke-dasharray="4.2 1.8" stroke-dashoffset="21.23"/>
<line x1="71.8" y1="253.8" x2="73.3" y2="257.9" stroke="#b8849a" stroke-width="1.1" stroke-dasharray="4.2 1.8" stroke-dashoffset="26.67"/>
<line x1="73.3" y1="257.9" x2="74.2" y2="264.2" stroke="#b8849a" stroke-width="1.1" stroke-dasharray="4.2 1.8" stroke-dashoffset="31.04"/>
<line x1="74.2" y1="264.2" x2="76.3" y2="267.3" stroke="#b8849a" stroke-width="1.1" stroke-dasharray="4.2 1.8" stroke-dashoffset="37.40"/>
<line x1="76.3" y1="267.3" x2="77.8" y2="271.4" stroke="#b8849a" stroke-width="1.1" stroke-dasharray="4.2 1.8" stroke-dashoffset="41.14"/>
<line x1="77.8" y1="271.4" x2="78.3" y2="275.5" stroke="#b8849a" stroke-width="1.1" stroke-dasharray="4.2 1.8" stroke-dashoffset="45.51"/>
<line x1="78.3" y1="275.5" x2="79.9" y2="280.6" stroke="#b8849a" stroke-width="1.1" stroke-dasharray="4.2 1.8" stroke-dashoffset="49.64"/>
<line x1="79.9" y1="280.6" x2="81.4" y2="286.8" stroke="#b8849a" stroke-width="1.1" stroke-dasharray="4.2 1.8" stroke-dashoffset="54.99"/>
<line x1="81.4" y1="286.8" x2="83.4" y2="290.9" stroke="#b8849a" stroke-width="1.1" stroke-dasharray="4.2 1.8" stroke-dashoffset="61.36"/>
<line x1="83.4" y1="290.9" x2="84.9" y2="295.6" stroke="#b8849a" stroke-width="1.1" stroke-dasharray="4.2 1.8" stroke-dashoffset="65.93"/>
<line x1="84.9" y1="295.6" x2="87" y2="299.1" stroke="#b8849a" stroke-width="1.1" stroke-dasharray="4.2 1.8" stroke-dashoffset="70.86"/>
<line x1="87" y1="299.1" x2="89.1" y2="303.3" stroke="#b8849a" stroke-width="1.1" stroke-dasharray="4.2 1.8" stroke-dashoffset="74.94"/>
<line x1="89.1" y1="303.3" x2="91.2" y2="307.5" stroke="#b8849a" stroke-width="1.1" stroke-dasharray="4.2 1.8" stroke-dashoffset="79.64"/>
<line x1="91.2" y1="307.5" x2="94.7" y2="309" stroke="#b8849a" stroke-width="1.1" stroke-dasharray="4.2 1.8" stroke-dashoffset="84.33"/>
<line x1="94.7" y1="309" x2="95.4" y2="313.2" stroke="#b8849a" stroke-width="1.1" stroke-dasharray="4.2 1.8" stroke-dashoffset="88.14"/>
<line x1="95.4" y1="313.2" x2="101.8" y2="313.9" stroke="#c87888" stroke-width="1.1" stroke-dasharray="4.2 1.8" stroke-dashoffset="92.40"/>
<line x1="101.8" y1="313.9" x2="103.2" y2="318.1" stroke="#b8849a" stroke-width="1.1" stroke-dasharray="4.2 1.8" stroke-dashoffset="98.84"/>
<line x1="103.2" y1="318.1" x2="108.1" y2="318.8" stroke="#c87888" stroke-width="1.1" stroke-dasharray="4.2 1.8" stroke-dashoffset="103.26"/>
<line x1="108.1" y1="318.8" x2="109.5" y2="323" stroke="#b8849a" stroke-width="1.1" stroke-dasharray="4.2 1.8" stroke-dashoffset="108.21"/>
<line x1="109.5" y1="323" x2="111.6" y2="328.7" stroke="#b8849a" stroke-width="1.1" stroke-dasharray="4.2 1.8" stroke-dashoffset="112.64"/>
<line x1="111.6" y1="328.7" x2="118.7" y2="329.4" stroke="#c87888" stroke-width="1.1" stroke-dasharray="4.2 1.8" stroke-dashoffset="118.72"/>
<line x1="118.7" y1="329.4" x2="119.4" y2="334.6" stroke="#b8849a" stroke-width="1.1" stroke-dasharray="4.2 1.8" stroke-dashoffset="125.85"/>
<path d="M65.60,227.90H66.65V228.70H67.70" fill="none" stroke="#30308c" stroke-width="1.1" stroke-linejoin="round"/>
<path d="M67.70,228.70H68.70V229.70H69.70" fill="none" stroke="#30308c" stroke-width="1.1" stroke-linejoin="round"/>
<line x1="69.7" y1="229.7" x2="70.2" y2="233.3" stroke="#8484c2" stroke-width="1.2" stroke-linecap="round"/>
<path d="M70.20,233.30H70.85V234.80H72.15V236.30H72.80" fill="none" stroke="#30308c" stroke-width="1.1" stroke-linejoin="round"/>
<path d="M72.80,236.30H74.35V237.90H75.90" fill="none" stroke="#30308c" stroke-width="1.1" stroke-linejoin="round"/>
<path d="M75.90,237.90H77.15V238.90H78.40" fill="none" stroke="#30308c" stroke-width="1.1" stroke-linejoin="round"/>
<path d="M78.40,238.90H79.70V241.00H81.00" fill="none" stroke="#30308c" stroke-width="1.1" stroke-linejoin="round"/>
<path d="M81.00,241.00H81.52V242.37H82.55V243.73H83.58V245.10H84.10" fill="none" stroke="#30308c" stroke-width="1.1" stroke-linejoin="round"/>
<path d="M84.10,245.10H84.85V246.85H86.35V248.60H87.10" fill="none" stroke="#30308c" stroke-width="1.1" stroke-linejoin="round"/>
<path d="M87.10,248.60H88.35V249.20H89.60" fill="none" stroke="#30308c" stroke-width="1.1" stroke-linejoin="round"/>
<path d="M89.60,249.20H90.05V250.35H90.95V251.50H91.40" fill="none" stroke="#30308c" stroke-width="1.1" stroke-linejoin="round"/>
<path d="M91.40,251.50H91.68V252.70H92.22V253.90H92.50" fill="none" stroke="#30308c" stroke-width="1.1" stroke-linejoin="round"/>
<path d="M92.50,253.90H93.95V253.90H95.40" fill="none" stroke="#30308c" stroke-width="1.1" stroke-linejoin="round"/>
<path d="M95.40,253.90H95.98V255.60H97.12V257.30H97.70" fill="none" stroke="#30308c" stroke-width="1.1" stroke-linejoin="round"/>
<path d="M97.70,257.30H98.18V258.83H99.15V260.37H100.12V261.90H100.60" fill="none" stroke="#30308c" stroke-width="1.1" stroke-linejoin="round"/>
<path d="M100.60,261.90H101.08V263.47H102.05V265.03H103.02V266.60H103.50" fill="none" stroke="#30308c" stroke-width="1.1" stroke-linejoin="round"/>
<path d="M103.50,266.60H104.35V268.30H106.05V270.00H106.90" fill="none" stroke="#30308c" stroke-width="1.1" stroke-linejoin="round"/>
<path d="M106.90,270.00H107.62V271.75H109.08V273.50H109.80" fill="none" stroke="#30308c" stroke-width="1.1" stroke-linejoin="round"/>
<path d="M109.80,273.50H110.25V275.10H111.15V276.70H111.60" fill="none" stroke="#30308c" stroke-width="1.1" stroke-linejoin="round"/>
<path d="M111.60,276.70H113.30V277.00H115.00" fill="none" stroke="#30308c" stroke-width="1.1" stroke-linejoin="round"/>
<line x1="115" y1="277" x2="119.1" y2="277.5" stroke="#7c7cbe" stroke-width="1.3" stroke-linecap="round"/>
<path d="M119.10,277.50H119.52V278.95H120.38V280.40H120.80" fill="none" stroke="#30308c" stroke-width="1.1" stroke-linejoin="round"/>
<path d="M120.80,280.40H121.10V282.05H121.70V283.70H122.00" fill="none" stroke="#30308c" stroke-width="1.1" stroke-linejoin="round"/>
<line x1="122" y1="283.7" x2="127.2" y2="284" stroke="#7c7cbe" stroke-width="1.3" stroke-linecap="round"/>
<path d="M127.20,284.00H127.58V285.65H128.32V287.30H128.70" fill="none" stroke="#30308c" stroke-width="1.1" stroke-linejoin="round"/>
<path d="M128.70,287.30H129.22V288.85H130.28V290.40H130.80" fill="none" stroke="#30308c" stroke-width="1.1" stroke-linejoin="round"/>
<line x1="130.8" y1="290.4" x2="137.9" y2="290.9" stroke="#7c7cbe" stroke-width="1.3" stroke-linecap="round"/>
<path d="M137.90,290.90H138.45V292.40H139.00" fill="none" stroke="#30308c" stroke-width="1.1" stroke-linejoin="round"/>
<line x1="139" y1="292.4" x2="147.7" y2="292.9" stroke="#7c7cbe" stroke-width="1.3" stroke-linecap="round"/>
<path d="M147.70,292.90H148.20V294.50H148.70" fill="none" stroke="#30308c" stroke-width="1.1" stroke-linejoin="round"/>
<path d="M148.70,294.50H150.25V295.50H151.80" fill="none" stroke="#30308c" stroke-width="1.1" stroke-linejoin="round"/>
<path d="M151.80,295.50H152.30V297.00H152.80" fill="none" stroke="#30308c" stroke-width="1.1" stroke-linejoin="round"/>
<line x1="152.8" y1="297" x2="157.9" y2="297.5" stroke="#7c7cbe" stroke-width="1.3" stroke-linecap="round"/>
<path d="M157.90,297.50H158.15V299.13H158.65V300.77H159.15V302.40H159.40" fill="none" stroke="#30308c" stroke-width="1.1" stroke-linejoin="round"/>
<line x1="159.4" y1="302.4" x2="188.1" y2="302.5" stroke="#7c7cbe" stroke-width="1.3" stroke-linecap="round"/>
<line x1="188.1" y1="302.5" x2="188.1" y2="307.9" stroke="#8484c2" stroke-width="1.2" stroke-linecap="round"/>
<line x1="188.1" y1="307.9" x2="217.5" y2="307.9" stroke="#7c7cbe" stroke-width="1.3" stroke-linecap="round"/>
<line x1="217.5" y1="307.9" x2="217.5" y2="316.8" stroke="#8484c2" stroke-width="1.2" stroke-linecap="round"/>
<line x1="217.5" y1="316.8" x2="243.2" y2="316.8" stroke="#7c7cbe" stroke-width="1.3" stroke-linecap="round"/>
<line x1="243.2" y1="316.8" x2="243.2" y2="334.6" stroke="#8484c2" stroke-width="1.2" stroke-linecap="round"/>
<circle cx="172" cy="302.5" r="1.1" fill="#40408a"/>
<circle cx="176.5" cy="302.5" r="1.1" fill="#40408a"/>
<circle cx="182" cy="302.5" r="1.1" fill="#40408a"/>
<circle cx="185" cy="302.5" r="1.1" fill="#40408a"/>
<circle cx="191" cy="307.9" r="1.1" fill="#40408a"/>
<circle cx="211" cy="307.9" r="1.1" fill="#40408a"/>
<circle cx="214" cy="307.9" r="1.1" fill="#40408a"/>
<circle cx="236" cy="316.8" r="1.1" fill="#40408a"/>
</g>
<g opacity="0.995">
<text class="ti" x="56.9" y="15.0" style="font-size:13.1px">Landmark analysis at 6 months</text>
<text class="md" x="145.8" y="54.4">Median OS</text>
<text class="md" x="117.7" y="63.4">RBC-TD group 18 months</text>
<text class="md" x="117.7" y="71.9">RBC-T independent group 64 months</text>
<text class="md" x="117.7" y="80.2">Log-Rank p&lt;0.0001</text>
<text class="ti" x="296.4" y="14.9" style="font-size:13px">Landmark analysis at 12 months</text>
<text class="md" x="389.2" y="50.4">Median OS</text>
<text class="md" x="361.0" y="59.0">RBC-TD group 26 months</text>
<text class="md" x="361.0" y="67.4">RBC-T independent group 70 months</text>
<text class="md" x="361.0" y="76.0">Log-Rank p&lt;0.0001</text>
<text class="ti" x="49.0" y="218.5" style="font-size:13px">Landmark analysis at 24 months</text>
<text class="md" x="155.0" y="245.1">Median OS</text>
<text class="md" x="127.1" y="253.7">RBC-TD group: 39 months</text>
<text class="md" x="127.1" y="262.4">RBC-T independent group: 87 months</text>
<text class="md" x="127.1" y="271.0">Log-Rank p&lt;0.0001</text>
</g>
</svg>
</body></html>
